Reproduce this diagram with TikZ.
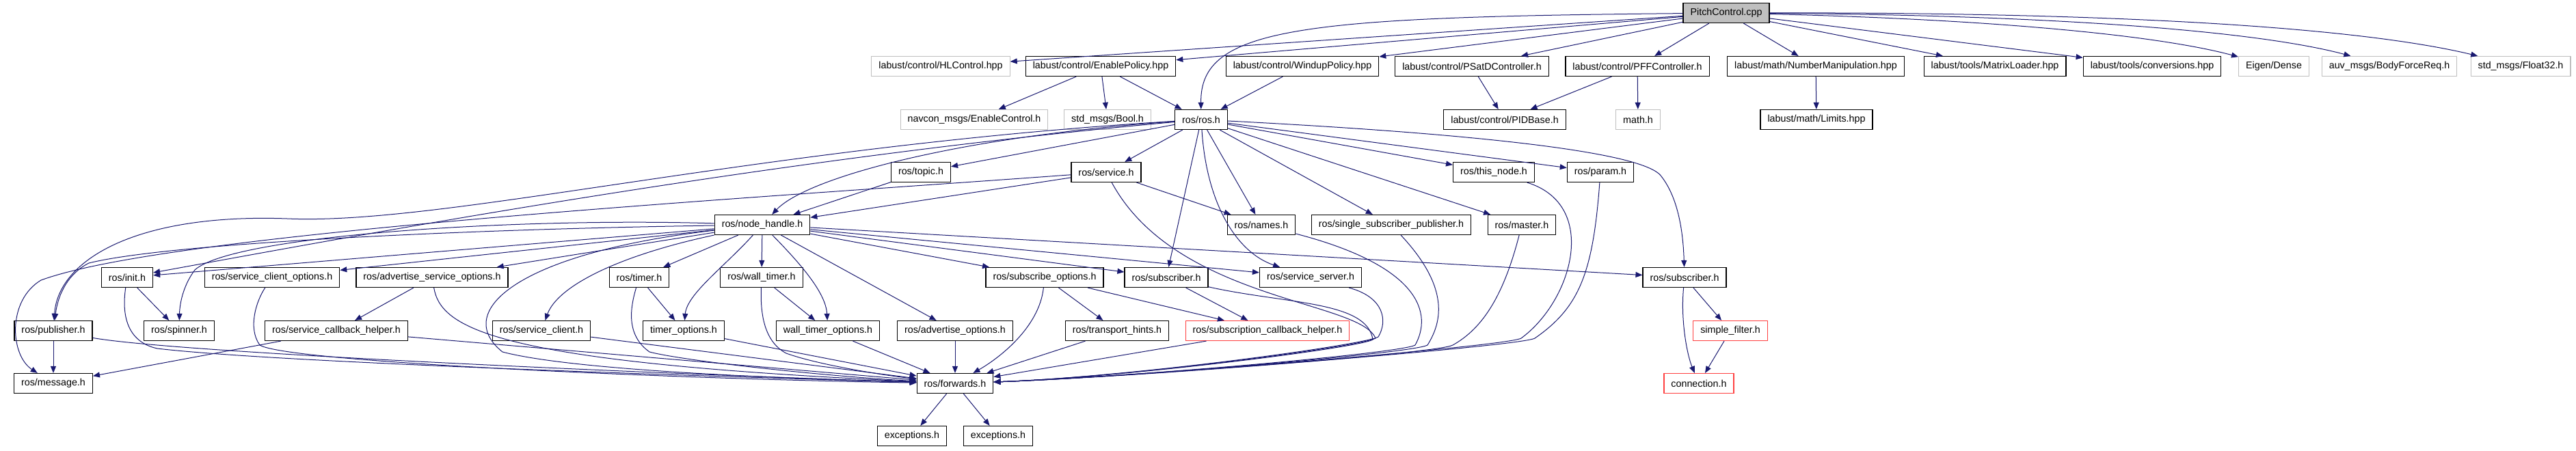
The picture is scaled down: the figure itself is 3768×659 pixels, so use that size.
\documentclass[tikz,border=0pt]{standalone}
\usepackage{fontspec}
\setmainfont{Liberation Sans}
\usetikzlibrary{arrows.meta}
\definecolor{doxblue}{RGB}{25,25,112}
\definecolor{doxgray}{RGB}{191,191,191}
\definecolor{doxred}{RGB}{255,64,64}

\begin{document}
\begin{tikzpicture}[x=1pt,y=-1pt,
    every node/.style={draw,line width=1.2pt,fill=white,minimum height=29pt,
      inner xsep=10.5pt,inner ysep=0pt,font=\fontsize{14.3}{17}\selectfont},
    extbox/.style={draw=doxgray},
    cutbox/.style={draw=doxred},
    dep/.style={draw=doxblue,line width=1pt,-{Triangle[length=10pt,width=8pt]}}]

    \useasboundingbox (0,0) rectangle (3768,659);

    %==================== Source file and its includes ====================
    \node[fill=doxgray] (pc) at (2525,19) {PitchControl.cpp};

    \node[extbox] (hl)  at (1376,97) {labust/control/HLControl.hpp};
    \node         (ep)  at (1610,97) {labust/control/EnablePolicy.hpp};
    \node         (wp)  at (1905,97) {labust/control/WindupPolicy.hpp};
    \node         (psd) at (2153,97) {labust/control/PSatDController.h};
    \node         (pff) at (2395,97) {labust/control/PFFController.h};
    \node         (nm)  at (2656,97) {labust/math/NumberManipulation.hpp};
    \node         (ml)  at (2918,97) {labust/tools/MatrixLoader.hpp};
    \node         (cv)  at (3148,97) {labust/tools/conversions.hpp};
    \node[extbox] (eig) at (3326,97) {Eigen/Dense};
    \node[extbox] (bfr) at (3495,97) {auv\_msgs/BodyForceReq.h};
    \node[extbox] (f32) at (3687,97) {std\_msgs/Float32.h};

    % second level
    \node[extbox] (nav)   at (1425,175) {navcon\_msgs/EnableControl.h};
    \node[extbox] (bool)  at (1620,175) {std\_msgs/Bool.h};
    \node         (ros)   at (1757,175) {ros/ros.h};
    \node         (pid)   at (2201,175) {labust/control/PIDBase.h};
    \node[extbox] (mathh) at (2396,175) {math.h};
    \node         (lim)   at (2657,175) {labust/math/Limits.hpp};

    %==================== ROS headers ====================
    \node (topic)    at (1347,252) {ros/topic.h};
    \node (service)  at (1618,252) {ros/service.h};
    \node (thisnode) at (2185,252) {ros/this\_node.h};
    \node (param)    at (2341,252) {ros/param.h};

    \node (nh)     at (1115,329) {ros/node\_handle.h};
    \node (names)  at (1845,329) {ros/names.h};
    \node (ssp)    at (2035,329) {ros/single\_subscriber\_publisher.h};
    \node (master) at (2226,329) {ros/master.h};

    \node (init)   at (186,406)  {ros/init.h};
    \node (sco)    at (398,406)  {ros/service\_client\_options.h};
    \node (aso)    at (632,406)  {ros/advertise\_service\_options.h};
    \node (timer)  at (935,406)  {ros/timer.h};
    \node (wtimer) at (1114,406) {ros/wall\_timer.h};
    \node (subopt) at (1528,406) {ros/subscribe\_options.h};
    \node (sub)    at (1706,406) {ros/subscriber.h};
    \node (ssrv)   at (1917,406) {ros/service\_server.h};
    \node (subb)   at (2464,406) {ros/subscriber.h};

    \node (pub)   at (78,484)   {ros/publisher.h};
    \node (spin)  at (262,484)  {ros/spinner.h};
    \node (sch)   at (492,484)  {ros/service\_callback\_helper.h};
    \node (scl)   at (792,484)  {ros/service\_client.h};
    \node (topt)  at (1000,484) {timer\_options.h};
    \node (wtopt) at (1211,484) {wall\_timer\_options.h};
    \node (aopt)  at (1397,484) {ros/advertise\_options.h};
    \node (th)    at (1634,484) {ros/transport\_hints.h};
    \node[cutbox] (sbch) at (1854,484) {ros/subscription\_callback\_helper.h};
    \node[cutbox] (sf)   at (2531,484) {simple\_filter.h};

    \node (msg) at (78,561)   {ros/message.h};
    \node (fwd) at (1397,561) {ros/forwards.h};
    \node[cutbox] (conn) at (2485,561) {connection.h};

    \node (exa) at (1334,638) {exceptions.h};
    \node (exb) at (1460,638) {exceptions.h};

    %==================== Straight dependencies ====================
    \foreach \a/\b in {pc/hl,pc/ep,pc/wp,pc/psd,pc/pff,pc/nm,pc/ml,pc/cv,
        ep/nav,ep/bool,ep/ros,wp/ros,psd/pid,pff/pid,pff/mathh,nm/lim,
        ros/topic,ros/service,ros/thisnode,ros/param,ros/names,ros/ssp,
        ros/master,ros/sub,topic/nh,service/nh,service/names,
        nh/init,nh/sco,nh/aso,nh/timer,nh/wtimer,nh/aopt,
        nh/subopt,nh/sub,nh/ssrv,nh/subb,
        init/spin,aso/sch,timer/topt,wtimer/wtopt,
        subopt/th,subopt/sbch,sub/sbch,subb/sf,sf/conn,
        pub/msg,sch/msg,sch/fwd,scl/fwd,topt/fwd,wtopt/fwd,
        aopt/fwd,th/fwd,sbch/fwd,fwd/exa,fwd/exb} {
      \draw[dep] (\a) -- (\b);
    }

    %==================== Curved dependencies ====================
    % from the source file
    \draw[dep] (pc) .. controls (1900,25) and (1755,40) .. (ros);
    \draw[dep] (pc) .. controls (2900,28) and (3150,50) .. (eig);
    \draw[dep] (pc) .. controls (3000,22) and (3300,45) .. (bfr);
    \draw[dep] (pc) .. controls (3100,18) and (3450,40) .. (f32);

    % long ones to the left
    \draw[dep] (ros) .. controls (1400,200) and (1180,260) .. (nh);
    \draw[dep] (ros) .. controls (1100,215) and (650,330) .. (420,320)
                     .. controls (200,312) and (85,380) .. (pub);
    \draw[dep] (ros) .. controls (1150,230) and (600,330) .. (init);
    \draw[dep] (service) .. controls (1100,290) and (250,340) .. (60,410)
                     .. controls (10,440) and (15,520) .. (msg);
    \draw[dep] (nh) .. controls (700,335) and (250,355) .. (130,385)
                    .. controls (100,400) and (85,430) .. (pub);
    \draw[dep] (nh) .. controls (750,318) and (340,345) .. (285,395)
                    .. controls (270,415) and (263,440) .. (spin);

    % node handle downwards
    \draw[dep] (nh) .. controls (900,375) and (815,420) .. (scl);
    \draw[dep] (nh) .. controls (1060,390) and (1005,430) .. (topt);
    \draw[dep] (nh) .. controls (1175,390) and (1208,430) .. (wtopt);

    % right side
    \draw[dep] (ros) .. controls (1765,300) and (1810,370) .. (ssrv);
    \draw[dep] (ros) .. controls (2050,190) and (2400,215) .. (2430,258)
                     .. controls (2455,290) and (2462,340) .. (subb);
    \draw[dep] (subb) .. controls (2458,470) and (2468,520) .. (conn);

    %==================== Into ros/forwards.h ====================
    % from the left
    \draw[dep] (pub) .. controls (250,515) and (900,545) .. (fwd);
    \draw[dep] (init) .. controls (178,460) and (185,500) .. (230,510)
                      .. controls (400,530) and (1000,550) .. (fwd);
    \draw[dep] (sco) .. controls (375,440) and (362,480) .. (380,505)
                     .. controls (420,530) and (1000,555) .. (fwd);
    \draw[dep] (aso) .. controls (645,480) and (720,530) .. (fwd);
    \draw[dep] (nh) .. controls (760,370) and (660,455) .. (735,515)
                    .. controls (850,545) and (1200,555) .. (fwd);
    \draw[dep] (timer) .. controls (922,450) and (915,490) .. (950,515)
                       .. controls (1000,528) and (1200,550) .. (fwd);
    \draw[dep] (wtimer) .. controls (1112,460) and (1118,500) .. (1150,517)
                        .. controls (1200,535) and (1300,550) .. (fwd);
    \draw[dep] (subopt) .. controls (1520,480) and (1460,525) .. (fwd);

    % from the right, round simple helpers
    \foreach \s/\ax/\ay/\bx/\by/\wx/\wy in {
        service/1720/440/1990/440/2012/495,
        sub/1880/445/2000/440/2008/497,
        ssrv/2025/435/2030/470/2016/493,
        names/2080/390/2095/460/2070/505,
        ssp/2120/420/2110/470/2088/505,
        master/2200/430/2170/480/2125/505,
        thisnode/2340/300/2300/440/2225/495,
        param/2330/400/2310/450/2245/495} {
      \draw[dep] (\s) .. controls (\ax,\ay) and (\bx,\by) .. (\wx,\wy)
                      .. controls +(-20,12) and (1650,552) .. (fwd);
    }

  \end{tikzpicture}
\end{document}
